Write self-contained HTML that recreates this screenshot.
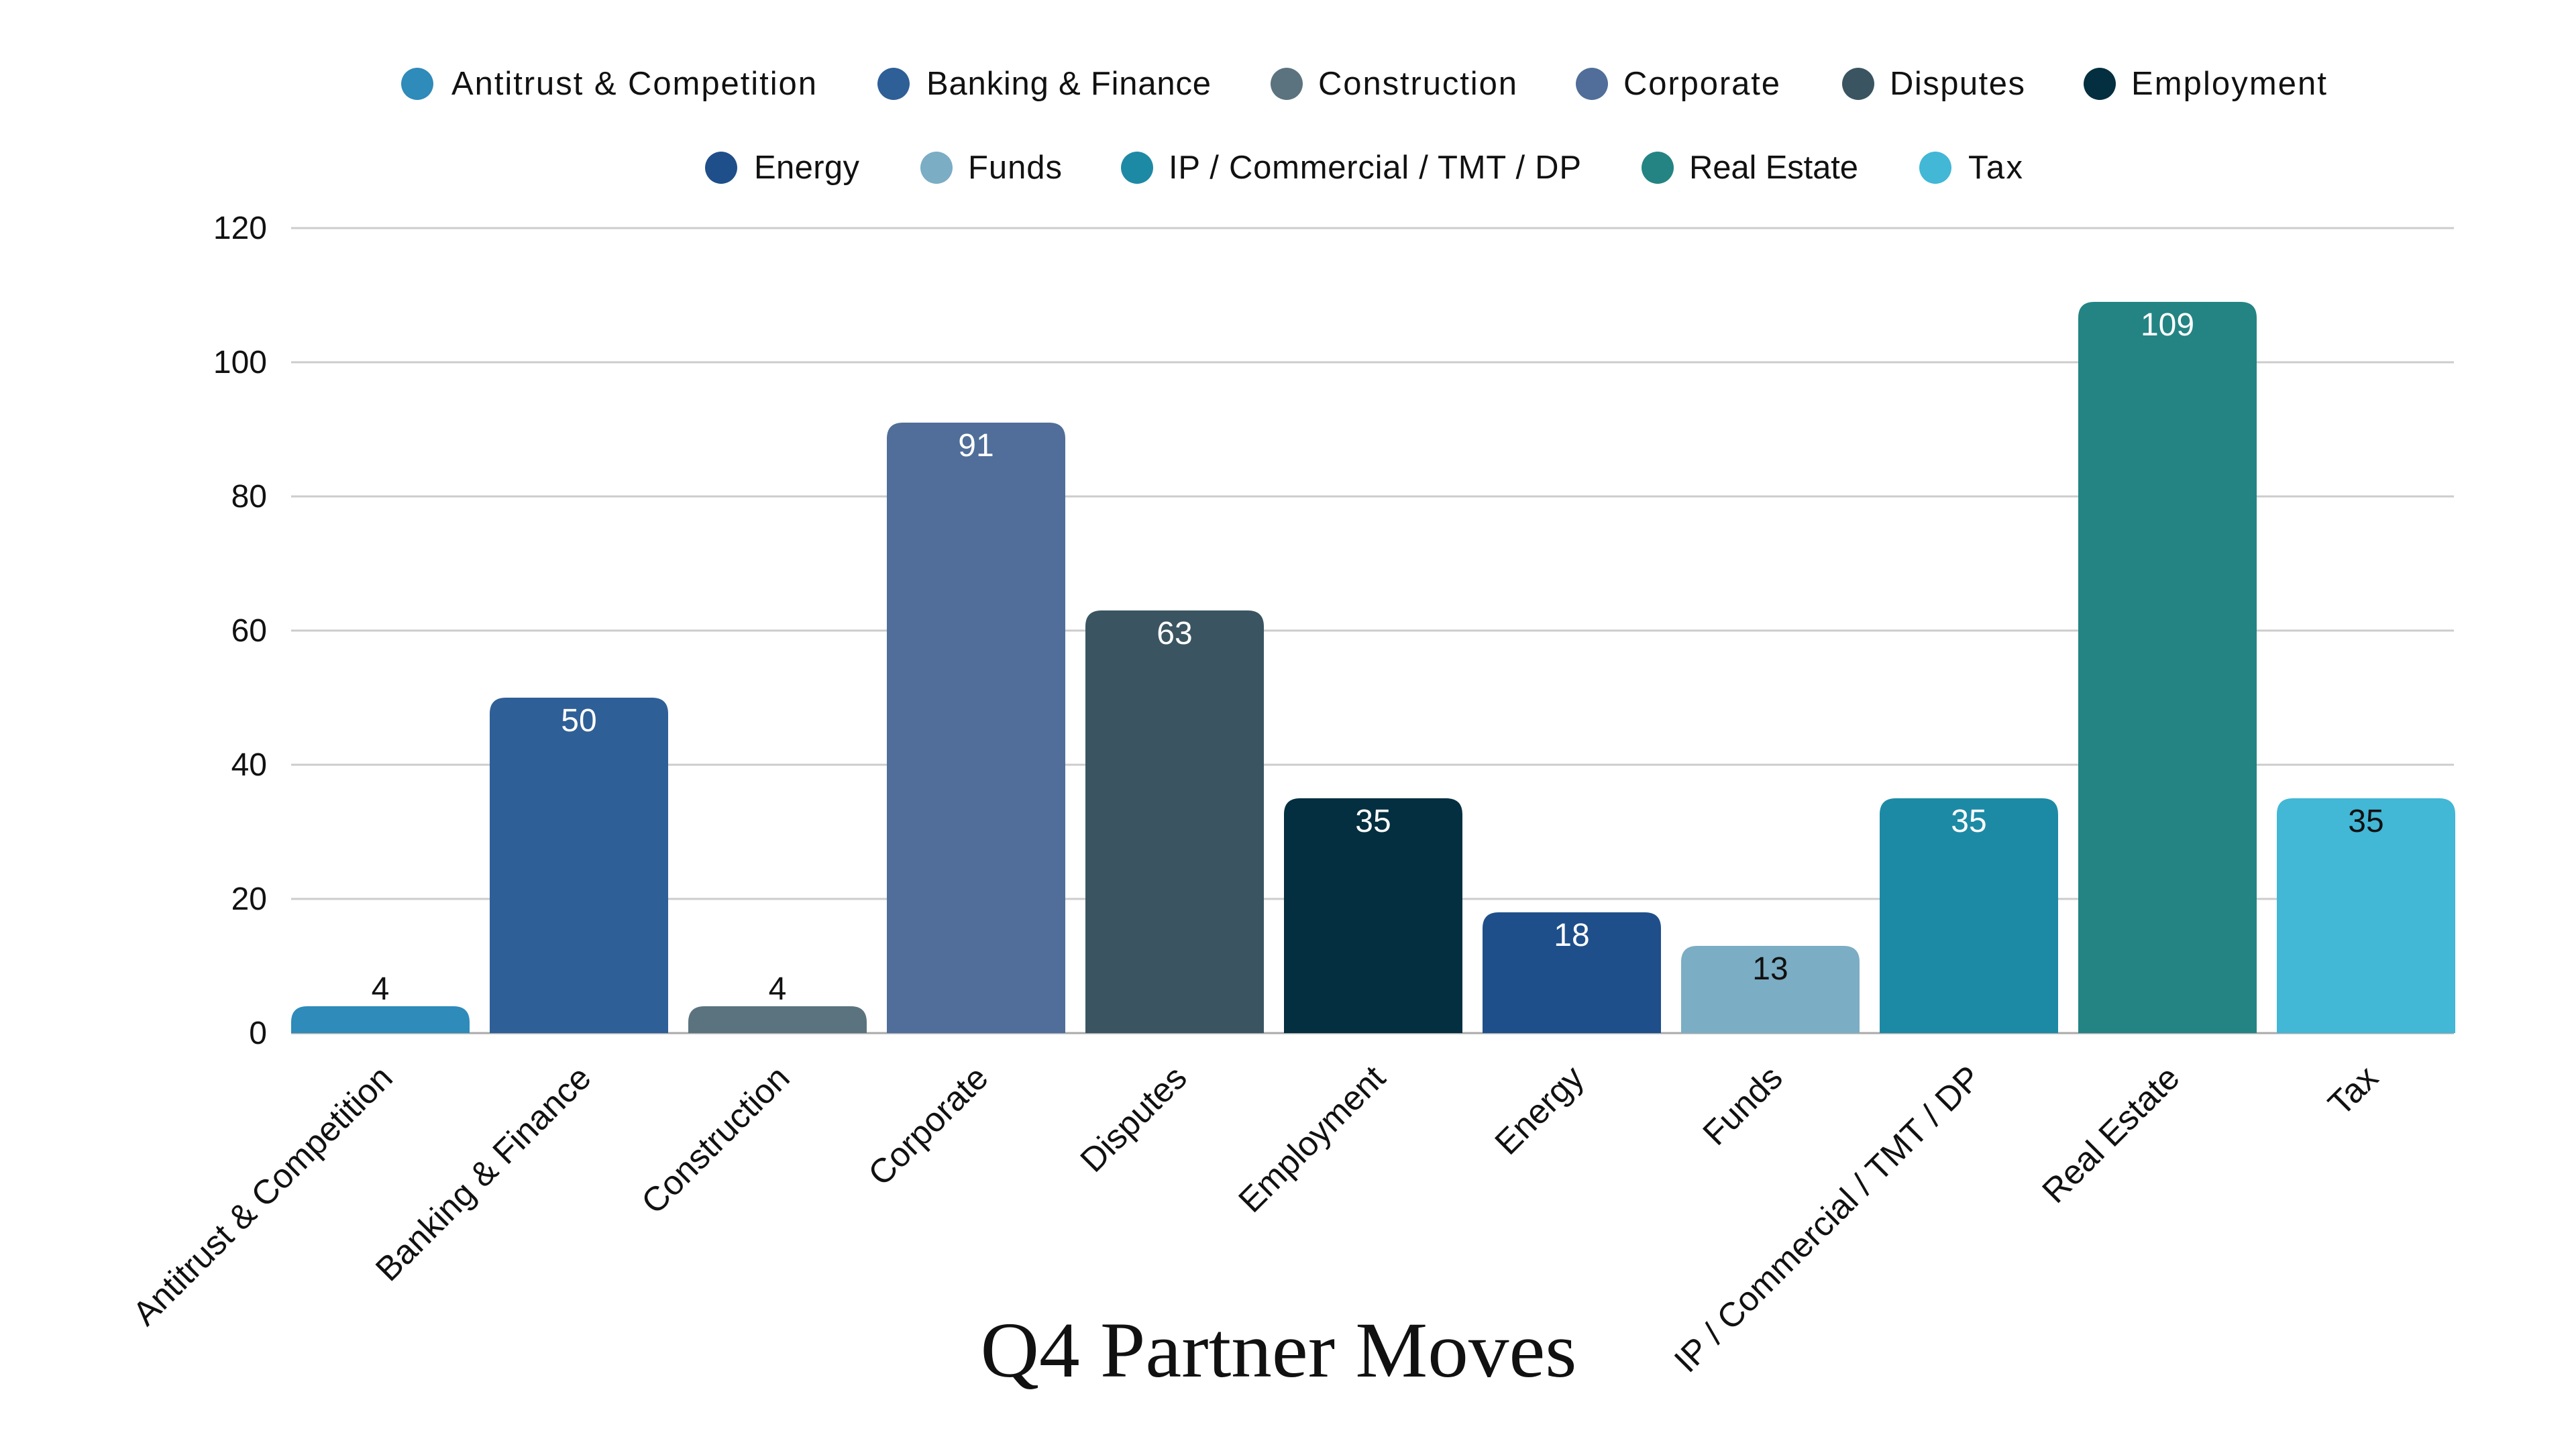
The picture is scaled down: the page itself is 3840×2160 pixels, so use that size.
<!DOCTYPE html>
<html><head><meta charset="utf-8"><style>html,body{margin:0;padding:0;background:#fff}svg{display:block}</style></head>
<body>
<svg width="3840" height="2160" viewBox="0 0 3840 2160" xmlns="http://www.w3.org/2000/svg" font-family="'Liberation Sans', 'DejaVu Sans', sans-serif">
<rect width="3840" height="2160" fill="#fff"/>
<g font-size="49" fill="#111" lengthAdjust="spacingAndGlyphs">
<circle cx="622" cy="125" r="24" fill="#2E8BBA"/><text x="673" y="141" textLength="544">Antitrust &amp; Competition</text>
<circle cx="1332" cy="125" r="24" fill="#2F5F97"/><text x="1381" y="141" textLength="424">Banking &amp; Finance</text>
<circle cx="1918" cy="125" r="24" fill="#5B737E"/><text x="1965" y="141" textLength="296">Construction</text>
<circle cx="2373" cy="125" r="24" fill="#506E99"/><text x="2420" y="141" textLength="233">Corporate</text>
<circle cx="2770" cy="125" r="24" fill="#3A5561"/><text x="2817" y="141" textLength="201">Disputes</text>
<circle cx="3130" cy="125" r="24" fill="#032F40"/><text x="3177" y="141" textLength="291">Employment</text>
<circle cx="1075" cy="250" r="24" fill="#1F4F8A"/><text x="1124" y="266" textLength="157">Energy</text>
<circle cx="1396" cy="250" r="24" fill="#7BADC4"/><text x="1443" y="266" textLength="140">Funds</text>
<circle cx="1695" cy="250" r="24" fill="#1D8AA5"/><text x="1742" y="266" textLength="615">IP / Commercial / TMT / DP</text>
<circle cx="2471" cy="250" r="24" fill="#238483"/><text x="2518" y="266" textLength="252">Real Estate</text>
<circle cx="2885" cy="250" r="24" fill="#42B7D6"/><text x="2934" y="266" textLength="81">Tax</text>
</g>
<g stroke="#cccccc" stroke-width="3">
<line x1="434" y1="340" x2="3658" y2="340"/>
<line x1="434" y1="540" x2="3658" y2="540"/>
<line x1="434" y1="740" x2="3658" y2="740"/>
<line x1="434" y1="940" x2="3658" y2="940"/>
<line x1="434" y1="1140" x2="3658" y2="1140"/>
<line x1="434" y1="1340" x2="3658" y2="1340"/>
<line x1="434" y1="1540" x2="3658" y2="1540" stroke="#aaa"/>
</g>
<g font-size="48" fill="#111" text-anchor="end">
<text x="398" y="356">120</text><text x="398" y="556">100</text><text x="398" y="756">80</text>
<text x="398" y="956">60</text><text x="398" y="1156">40</text><text x="398" y="1356">20</text><text x="398" y="1556">0</text>
</g>
<g id="bars">
<path d="M434,1540 V1524 Q434,1500 458,1500 H676 Q700,1500 700,1524 V1540 Z" fill="#2E8BBA"/>
<path d="M730,1540 V1064 Q730,1040 754,1040 H972 Q996,1040 996,1064 V1540 Z" fill="#2F5F97"/>
<path d="M1026,1540 V1524 Q1026,1500 1050,1500 H1268 Q1292,1500 1292,1524 V1540 Z" fill="#5B737E"/>
<path d="M1322,1540 V654 Q1322,630 1346,630 H1564 Q1588,630 1588,654 V1540 Z" fill="#506E99"/>
<path d="M1618,1540 V934 Q1618,910 1642,910 H1860 Q1884,910 1884,934 V1540 Z" fill="#3A5561"/>
<path d="M1914,1540 V1214 Q1914,1190 1938,1190 H2156 Q2180,1190 2180,1214 V1540 Z" fill="#032F40"/>
<path d="M2210,1540 V1384 Q2210,1360 2234,1360 H2452 Q2476,1360 2476,1384 V1540 Z" fill="#1F4F8A"/>
<path d="M2506,1540 V1434 Q2506,1410 2530,1410 H2748 Q2772,1410 2772,1434 V1540 Z" fill="#7BADC4"/>
<path d="M2802,1540 V1214 Q2802,1190 2826,1190 H3044 Q3068,1190 3068,1214 V1540 Z" fill="#1D8AA5"/>
<path d="M3098,1540 V474 Q3098,450 3122,450 H3340 Q3364,450 3364,474 V1540 Z" fill="#238483"/>
<path d="M3394,1540 V1214 Q3394,1190 3418,1190 H3636 Q3660,1190 3660,1214 V1540 Z" fill="#42B7D6"/>
</g>
<g font-size="48" text-anchor="middle">
<text x="567" y="1490" fill="#111">4</text>
<text x="863" y="1090" fill="#fff">50</text>
<text x="1159" y="1490" fill="#111">4</text>
<text x="1455" y="680" fill="#fff">91</text>
<text x="1751" y="960" fill="#fff">63</text>
<text x="2047" y="1240" fill="#fff">35</text>
<text x="2343" y="1410" fill="#fff">18</text>
<text x="2639" y="1460" fill="#111">13</text>
<text x="2935" y="1240" fill="#fff">35</text>
<text x="3231" y="500" fill="#fff">109</text>
<text x="3527" y="1240" fill="#111">35</text>
</g>
<g font-size="51" fill="#111" text-anchor="end">
<text transform="translate(588,1610) rotate(-45)">Antitrust &amp; Competition</text>
<text transform="translate(884,1610) rotate(-45)">Banking &amp; Finance</text>
<text transform="translate(1180,1610) rotate(-45)">Construction</text>
<text transform="translate(1476,1610) rotate(-45)">Corporate</text>
<text transform="translate(1772,1610) rotate(-45)">Disputes</text>
<text transform="translate(2068,1610) rotate(-45)">Employment</text>
<text transform="translate(2364,1610) rotate(-45)">Energy</text>
<text transform="translate(2660,1610) rotate(-45)">Funds</text>
<text transform="translate(2956,1610) rotate(-45)">IP / Commercial / TMT / DP</text>
<text transform="translate(3252,1610) rotate(-45)">Real Estate</text>
<text transform="translate(3548,1610) rotate(-45)">Tax</text>
</g>
<text x="1906" y="2052" font-family="'Liberation Serif', 'DejaVu Serif', serif" font-size="118" fill="#111" text-anchor="middle" textLength="889" lengthAdjust="spacingAndGlyphs">Q4 Partner Moves</text>
</svg>
</body></html>
